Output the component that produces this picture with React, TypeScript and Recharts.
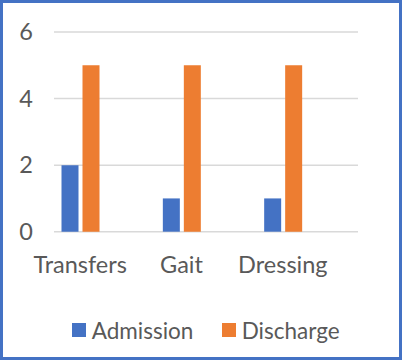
import { BarChart, Bar, XAxis, YAxis, CartesianGrid, Legend } from "recharts";

const categories = ["Transfers", "Gait", "Dressing"];
const admission = [2, 1, 1];
const discharge = [5, 5, 5];
const yTicks = [0, 2, 4, 6];

const data = categories.map((name, i) => ({
  name,
  Admission: admission[i],
  Discharge: discharge[i],
}));

const FONT = "Lato, sans-serif";
const TEXT = "#595959";
const FS = 23.5;

function LegendBox({ payload }: any) {
  return (
    <div
      style={{
        display: "flex",
        alignItems: "center",
        height: 50,
        paddingLeft: 68.7,
        fontFamily: FONT,
        fontSize: 22.5,
        color: TEXT,
      }}
    >
      {(payload || []).map((p: any, i: number) => (
        <div
          key={p.value}
          style={{ display: "flex", alignItems: "center", width: i === 0 ? 150 : "auto" }}
        >
          <span style={{ width: 14, height: 14, background: p.color, marginRight: 6 }} />
          <span>{p.value}</span>
        </div>
      ))}
    </div>
  );
}

export default function App() {
  return (
    <div
      style={{
        position: "absolute",
        left: 0,
        top: 0,
        width: 402,
        height: 360,
        boxSizing: "border-box",
        border: "3px solid #4472C4",
        background: "#fff",
      }}
    >
      <BarChart
        width={396}
        height={354}
        data={data}
        margin={{ top: 29, right: 41, left: 0, bottom: 2 }}
        barSize={17}
        barGap={4}
      >
        <CartesianGrid vertical={false} stroke="#d9d9d9" strokeWidth={1.5} />
        <XAxis
          dataKey="name"
          axisLine={false}
          tickLine={false}
          height={73.3}
          tickMargin={19}
          padding={{ left: -24.5, right: 24.5 }}
          tick={{ fill: TEXT, fontSize: FS, fontFamily: FONT }}
        />
        <YAxis
          width={51}
          domain={[0, 6]}
          ticks={yTicks}
          axisLine={false}
          tickLine={false}
          tickMargin={15}
          tick={{ fill: TEXT, fontSize: FS, fontFamily: FONT }}
        />
        <Legend verticalAlign="bottom" wrapperStyle={{ left: 0, width: 396 }} content={<LegendBox />} />
        <Bar dataKey="Admission" fill="#4472C4" isAnimationActive={false} />
        <Bar dataKey="Discharge" fill="#ED7D31" isAnimationActive={false} />
      </BarChart>
    </div>
  );
}
